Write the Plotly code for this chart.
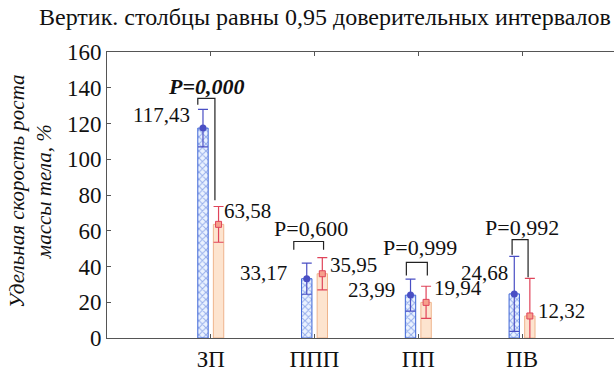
import plotly.graph_objects as go

# Groups and per-group statistics (mean and half-width of the 0.95 CI)
groups = ["ЗП", "ППП", "ПП", "ПВ"]
mean_a = [117.43, 33.17, 23.99, 24.68]
ci_a = [10.5, 8.7, 9.0, 21.0]
mean_b = [63.58, 35.95, 19.94, 12.32]
ci_b = [10.0, 9.0, 9.0, 21.0]
p_text = ["P=0,000", "P=0,600", "P=0,999", "P=0,992"]
p_bold = [True, False, False, False]

fmt = lambda v: f"{v:.2f}".replace(".", ",")

SERIF = "Liberation Serif"
BLUE = "#3d64d6"
BLUE_ERR = "#4a4fc4"
ORANGE_LINE = "#efb48c"
ORANGE_FILL = "#fde4cf"
RED = "#e0445a"
AXIS = "#555555"
X_RANGE = [-1, 3.886]
BARGAP = 0.7
# centre offset of each bar inside a two-bar group
half = (1 - BARGAP) / 4

fig = go.Figure()

fig.add_trace(go.Bar(
    x=groups, y=mean_a,
    marker=dict(color="white", line=dict(color=BLUE, width=1),
                pattern=dict(shape="x", fgcolor=BLUE, bgcolor="#eaf2ff",
                             size=5, solidity=0.35)),
    error_y=dict(type="data", array=ci_a, color=BLUE_ERR, thickness=1.2, width=5),
    showlegend=False,
))
fig.add_trace(go.Bar(
    x=groups, y=mean_b,
    marker=dict(color=ORANGE_FILL, line=dict(color=ORANGE_LINE, width=1)),
    error_y=dict(type="data", array=ci_b, color=RED, thickness=1.2, width=5),
    showlegend=False,
))

# mean points on an overlaid index axis that shares the category positions
idx = list(range(len(groups)))
fig.add_trace(go.Scatter(
    x=[i - half for i in idx], y=mean_a, xaxis="x2", mode="markers",
    marker=dict(symbol="circle", size=7, color=BLUE_ERR),
    showlegend=False,
))
fig.add_trace(go.Scatter(
    x=[i + half for i in idx], y=mean_b, xaxis="x2", mode="markers",
    marker=dict(symbol="square", size=6, color="#f6a08c",
                line=dict(color=RED, width=1)),
    showlegend=False,
))

# significance brackets: left x, right x, top, left-leg bottom, right-leg bottom
brackets = [
    (-0.125, 0.04, 134, 130.5, 77),
    (-0.20, 0.087, 54, 49.4, 49.4),
    (-0.115, 0.087, 42.3, 35, 35),
    (-0.096, 0.058, 55, 46.6, 34),
]
for i, (xl, xr, top, bl, br) in enumerate(brackets):
    fig.add_shape(type="path",
                  path=f"M {i + xl},{bl} L {i + xl},{top} L {i + xr},{top} L {i + xr},{br}",
                  xref="x", yref="y", line=dict(color="#222222", width=1.2))

# P-value labels above brackets
p_offsets = [(-0.05, 140.5), (-0.03, 61), (0.02, 50.5), (0.0, 62)]
for i, (txt, bold) in enumerate(zip(p_text, p_bold)):
    dx, yy = p_offsets[i]
    fig.add_annotation(x=i + dx, y=yy, xref="x", yref="y", showarrow=False,
                       text=f"<b><i>{txt}</i></b>" if bold else txt,
                       font=dict(family=SERIF, size=22))

# value labels
lab_a = [(-0.185, 7.3), (-0.25, 3.3), (-0.21, 3.0), (-0.115, 11.8)]
lab_b = [(0.105, 7.2), (0.13, 5.0), (0.135, 8.0), (0.13, 2.8)]
for i in range(len(groups)):
    dx, dy = lab_a[i]
    fig.add_annotation(x=i + dx, y=mean_a[i] + dy, xref="x", yref="y",
                       showarrow=False, xanchor="right", text=fmt(mean_a[i]),
                       font=dict(family=SERIF, size=21))
    dx, dy = lab_b[i]
    fig.add_annotation(x=i + dx, y=mean_b[i] + dy, xref="x", yref="y",
                       showarrow=False, xanchor="left", text=fmt(mean_b[i]),
                       font=dict(family=SERIF, size=21))

# chart title and y-axis title
fig.add_annotation(x=0.5, y=1.0, xref="paper", yref="paper", yanchor="middle",
                   xanchor="center", showarrow=False,
                   text="Вертик. столбцы равны 0,95 доверительных интервалов",
                   font=dict(family=SERIF, size=24),
                   xshift=-36, yshift=35)
fig.add_annotation(x=0, y=0.5, xref="paper", yref="paper", showarrow=False,
                   textangle=-90, xanchor="center", yanchor="middle",
                   text="<i>Удельная скорость роста<br>массы тела, %</i>",
                   font=dict(family=SERIF, size=21),
                   xshift=-77, yshift=4)

fig.update_layout(
    width=614, height=371,
    margin=dict(l=107, r=0, t=52, b=33),
    paper_bgcolor="white", plot_bgcolor="white",
    barmode="group", bargap=BARGAP, bargroupgap=1 / 3,
    showlegend=False,
    font=dict(family=SERIF, color="#111111"),
    xaxis=dict(
        range=X_RANGE, showgrid=False, zeroline=False,
        showline=True, linecolor=AXIS, linewidth=1, mirror="ticks",
        ticks="inside", ticklen=4, tickcolor=AXIS,
        tickfont=dict(family=SERIF, size=23),
    ),
    xaxis2=dict(range=X_RANGE, overlaying="x", visible=False),
    yaxis=dict(
        range=[0, 160], dtick=20, showgrid=False, zeroline=False,
        showline=True, linecolor=AXIS, linewidth=1,
        ticks="inside", ticklen=4, tickcolor=AXIS,
        tickfont=dict(family=SERIF, size=23),
    ),
)

fig.write_html("out.html")
